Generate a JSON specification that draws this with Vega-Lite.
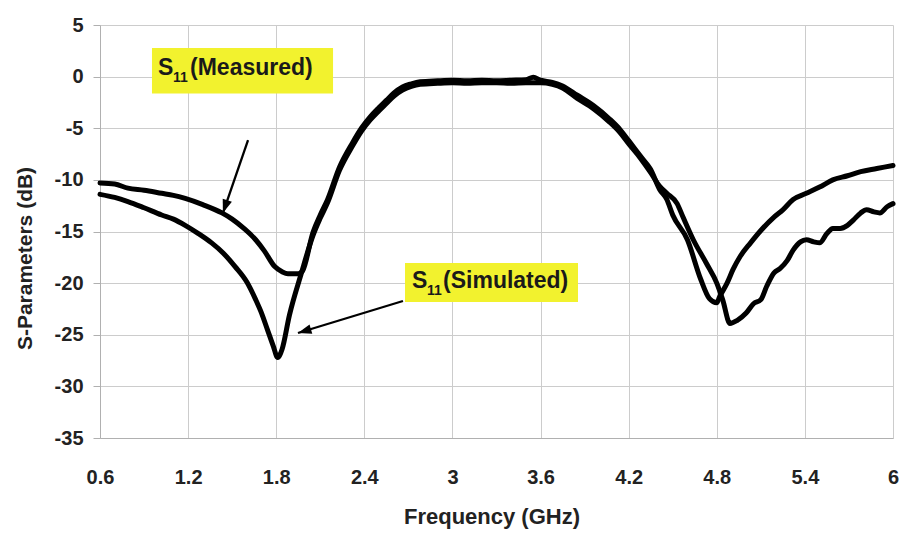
{
  "$schema": "https://vega.github.io/schema/vega-lite/v6.json",
  "width": 793,
  "height": 413,
  "autosize": {"type": "none"},
  "padding": {"left": 100, "top": 25, "right": 10, "bottom": 99},
  "background": "white",
  "config": {"view": {"stroke": null}, "font": "Liberation Sans"},
  "datasets": {
    "curves": [
      {"series": "Measured", "freq": 0.6, "db": -10.3},
      {"series": "Measured", "freq": 0.7, "db": -10.4},
      {"series": "Measured", "freq": 0.79, "db": -10.8},
      {"series": "Measured", "freq": 0.9, "db": -11.0},
      {"series": "Measured", "freq": 1.02, "db": -11.3},
      {"series": "Measured", "freq": 1.1, "db": -11.5},
      {"series": "Measured", "freq": 1.18, "db": -11.8},
      {"series": "Measured", "freq": 1.3, "db": -12.4},
      {"series": "Measured", "freq": 1.43, "db": -13.2},
      {"series": "Measured", "freq": 1.5, "db": -13.8},
      {"series": "Measured", "freq": 1.58, "db": -14.7},
      {"series": "Measured", "freq": 1.66, "db": -15.8},
      {"series": "Measured", "freq": 1.72, "db": -16.9},
      {"series": "Measured", "freq": 1.79, "db": -18.4},
      {"series": "Measured", "freq": 1.84, "db": -18.9},
      {"series": "Measured", "freq": 1.88, "db": -19.1},
      {"series": "Measured", "freq": 1.95, "db": -19.1},
      {"series": "Measured", "freq": 1.98, "db": -18.8},
      {"series": "Measured", "freq": 2.05, "db": -15.1},
      {"series": "Measured", "freq": 2.1, "db": -13.4},
      {"series": "Measured", "freq": 2.15, "db": -11.9},
      {"series": "Measured", "freq": 2.23, "db": -8.8},
      {"series": "Measured", "freq": 2.32, "db": -6.4},
      {"series": "Measured", "freq": 2.38, "db": -5.0},
      {"series": "Measured", "freq": 2.44, "db": -3.9},
      {"series": "Measured", "freq": 2.5, "db": -3.0},
      {"series": "Measured", "freq": 2.55, "db": -2.3},
      {"series": "Measured", "freq": 2.6, "db": -1.6},
      {"series": "Measured", "freq": 2.66, "db": -1.0},
      {"series": "Measured", "freq": 2.72, "db": -0.7},
      {"series": "Measured", "freq": 2.78, "db": -0.5},
      {"series": "Measured", "freq": 2.9, "db": -0.4},
      {"series": "Measured", "freq": 3.0, "db": -0.35},
      {"series": "Measured", "freq": 3.1, "db": -0.4},
      {"series": "Measured", "freq": 3.2, "db": -0.35},
      {"series": "Measured", "freq": 3.3, "db": -0.4},
      {"series": "Measured", "freq": 3.4, "db": -0.35},
      {"series": "Measured", "freq": 3.5, "db": -0.3},
      {"series": "Measured", "freq": 3.55, "db": -0.05},
      {"series": "Measured", "freq": 3.6, "db": -0.35},
      {"series": "Measured", "freq": 3.68, "db": -0.55},
      {"series": "Measured", "freq": 3.75, "db": -0.9},
      {"series": "Measured", "freq": 3.85, "db": -1.8},
      {"series": "Measured", "freq": 3.96, "db": -2.8},
      {"series": "Measured", "freq": 4.07, "db": -4.1},
      {"series": "Measured", "freq": 4.14, "db": -5.1},
      {"series": "Measured", "freq": 4.2, "db": -6.2},
      {"series": "Measured", "freq": 4.28, "db": -7.7},
      {"series": "Measured", "freq": 4.35, "db": -9.0},
      {"series": "Measured", "freq": 4.41, "db": -10.9},
      {"series": "Measured", "freq": 4.46, "db": -11.9},
      {"series": "Measured", "freq": 4.5, "db": -13.4},
      {"series": "Measured", "freq": 4.6, "db": -15.8},
      {"series": "Measured", "freq": 4.69, "db": -19.6},
      {"series": "Measured", "freq": 4.75, "db": -21.5},
      {"series": "Measured", "freq": 4.8, "db": -21.9},
      {"series": "Measured", "freq": 4.82, "db": -21.3},
      {"series": "Measured", "freq": 4.87, "db": -20.0},
      {"series": "Measured", "freq": 4.91, "db": -18.7},
      {"series": "Measured", "freq": 4.96, "db": -17.4},
      {"series": "Measured", "freq": 5.03, "db": -16.1},
      {"series": "Measured", "freq": 5.1, "db": -14.9},
      {"series": "Measured", "freq": 5.19, "db": -13.6},
      {"series": "Measured", "freq": 5.25, "db": -12.9},
      {"series": "Measured", "freq": 5.32, "db": -11.9},
      {"series": "Measured", "freq": 5.41, "db": -11.3},
      {"series": "Measured", "freq": 5.5, "db": -10.7},
      {"series": "Measured", "freq": 5.59, "db": -10.0},
      {"series": "Measured", "freq": 5.69, "db": -9.6},
      {"series": "Measured", "freq": 5.78, "db": -9.2},
      {"series": "Measured", "freq": 5.89, "db": -8.9},
      {"series": "Measured", "freq": 6.0, "db": -8.6},
      {"series": "Simulated", "freq": 0.6, "db": -11.4},
      {"series": "Simulated", "freq": 0.7, "db": -11.7},
      {"series": "Simulated", "freq": 0.79, "db": -12.1},
      {"series": "Simulated", "freq": 0.9, "db": -12.7},
      {"series": "Simulated", "freq": 1.02, "db": -13.4},
      {"series": "Simulated", "freq": 1.1, "db": -13.8},
      {"series": "Simulated", "freq": 1.18, "db": -14.4},
      {"series": "Simulated", "freq": 1.27, "db": -15.2},
      {"series": "Simulated", "freq": 1.36, "db": -16.1},
      {"series": "Simulated", "freq": 1.44, "db": -17.1},
      {"series": "Simulated", "freq": 1.52, "db": -18.4},
      {"series": "Simulated", "freq": 1.6, "db": -19.9},
      {"series": "Simulated", "freq": 1.66, "db": -21.6},
      {"series": "Simulated", "freq": 1.7, "db": -22.9},
      {"series": "Simulated", "freq": 1.74, "db": -24.5},
      {"series": "Simulated", "freq": 1.78, "db": -26.1},
      {"series": "Simulated", "freq": 1.81, "db": -27.2},
      {"series": "Simulated", "freq": 1.84, "db": -26.4},
      {"series": "Simulated", "freq": 1.89, "db": -23.1},
      {"series": "Simulated", "freq": 1.97, "db": -19.1},
      {"series": "Simulated", "freq": 2.05, "db": -15.4},
      {"series": "Simulated", "freq": 2.1, "db": -13.7},
      {"series": "Simulated", "freq": 2.15, "db": -12.2},
      {"series": "Simulated", "freq": 2.23, "db": -9.1},
      {"series": "Simulated", "freq": 2.32, "db": -6.7},
      {"series": "Simulated", "freq": 2.38, "db": -5.3},
      {"series": "Simulated", "freq": 2.44, "db": -4.2},
      {"series": "Simulated", "freq": 2.5, "db": -3.3},
      {"series": "Simulated", "freq": 2.55, "db": -2.6},
      {"series": "Simulated", "freq": 2.6, "db": -1.9},
      {"series": "Simulated", "freq": 2.66, "db": -1.3},
      {"series": "Simulated", "freq": 2.72, "db": -0.95},
      {"series": "Simulated", "freq": 2.78, "db": -0.75},
      {"series": "Simulated", "freq": 2.9, "db": -0.65},
      {"series": "Simulated", "freq": 3.0, "db": -0.6},
      {"series": "Simulated", "freq": 3.1, "db": -0.65},
      {"series": "Simulated", "freq": 3.2, "db": -0.6},
      {"series": "Simulated", "freq": 3.3, "db": -0.6},
      {"series": "Simulated", "freq": 3.4, "db": -0.65},
      {"series": "Simulated", "freq": 3.5, "db": -0.6},
      {"series": "Simulated", "freq": 3.6, "db": -0.6},
      {"series": "Simulated", "freq": 3.68, "db": -0.75},
      {"series": "Simulated", "freq": 3.75, "db": -1.1},
      {"series": "Simulated", "freq": 3.85, "db": -2.1},
      {"series": "Simulated", "freq": 3.96, "db": -3.1},
      {"series": "Simulated", "freq": 4.07, "db": -4.4},
      {"series": "Simulated", "freq": 4.14, "db": -5.4},
      {"series": "Simulated", "freq": 4.2, "db": -6.5},
      {"series": "Simulated", "freq": 4.28, "db": -7.9},
      {"series": "Simulated", "freq": 4.35, "db": -9.3},
      {"series": "Simulated", "freq": 4.41, "db": -10.6},
      {"series": "Simulated", "freq": 4.46, "db": -11.3},
      {"series": "Simulated", "freq": 4.53, "db": -12.3},
      {"series": "Simulated", "freq": 4.57, "db": -13.6},
      {"series": "Simulated", "freq": 4.64, "db": -15.8},
      {"series": "Simulated", "freq": 4.73, "db": -18.1},
      {"series": "Simulated", "freq": 4.8, "db": -20.0},
      {"series": "Simulated", "freq": 4.84, "db": -21.6},
      {"series": "Simulated", "freq": 4.89, "db": -23.9},
      {"series": "Simulated", "freq": 4.94, "db": -23.6},
      {"series": "Simulated", "freq": 5.0, "db": -22.9},
      {"series": "Simulated", "freq": 5.05, "db": -22.0},
      {"series": "Simulated", "freq": 5.1, "db": -21.6},
      {"series": "Simulated", "freq": 5.14, "db": -20.3},
      {"series": "Simulated", "freq": 5.19, "db": -19.0},
      {"series": "Simulated", "freq": 5.23, "db": -18.6},
      {"series": "Simulated", "freq": 5.28, "db": -17.8},
      {"series": "Simulated", "freq": 5.32, "db": -16.8},
      {"series": "Simulated", "freq": 5.37, "db": -16.0},
      {"series": "Simulated", "freq": 5.41, "db": -15.8},
      {"series": "Simulated", "freq": 5.46, "db": -16.0},
      {"series": "Simulated", "freq": 5.5, "db": -16.1},
      {"series": "Simulated", "freq": 5.55, "db": -15.2},
      {"series": "Simulated", "freq": 5.59, "db": -14.7},
      {"series": "Simulated", "freq": 5.64, "db": -14.7},
      {"series": "Simulated", "freq": 5.69, "db": -14.4},
      {"series": "Simulated", "freq": 5.73, "db": -13.9},
      {"series": "Simulated", "freq": 5.78, "db": -13.2},
      {"series": "Simulated", "freq": 5.82, "db": -12.9},
      {"series": "Simulated", "freq": 5.87, "db": -13.1},
      {"series": "Simulated", "freq": 5.91, "db": -13.2},
      {"series": "Simulated", "freq": 5.96, "db": -12.6},
      {"series": "Simulated", "freq": 6.0, "db": -12.3}
    ],
    "boxes": [
      {"label": "Measured", "freq": 0.954, "freq2": 2.187, "db": 2.77, "db2": -1.63},
      {"label": "Simulated", "freq": 2.677, "freq2": 3.855, "db": -18.05, "db2": -21.83}
    ],
    "arrows": [
      {"arrow": "Measured", "freq": 1.608, "db": -6.14},
      {"arrow": "Measured", "freq": 1.437, "db": -13.21},
      {"arrow": "Simulated", "freq": 2.663, "db": -21.73},
      {"arrow": "Simulated", "freq": 1.948, "db": -24.83}
    ],
    "tips": [
      {"arrow": "Measured", "freq": 1.437, "db": -13.21},
      {"arrow": "Simulated", "freq": 1.948, "db": -24.83}
    ],
    "labels": [
      {"kind": "main", "text": "S", "freq": 0.995, "db": 0.16},
      {"kind": "sub", "text": "11", "freq": 1.097, "db": -0.52},
      {"kind": "main", "text": "(Measured)", "freq": 1.213, "db": 0.16},
      {"kind": "main", "text": "S", "freq": 2.725, "db": -20.47},
      {"kind": "sub", "text": "11", "freq": 2.827, "db": -21.15},
      {"kind": "main", "text": "(Simulated)", "freq": 2.936, "db": -20.47}
    ]
  },
  "encoding": {
    "x": {
      "field": "freq",
      "type": "quantitative",
      "scale": {"domain": [0.6, 6], "nice": false, "zero": false},
      "axis": {
        "values": [0.6, 1.2, 1.8, 2.4, 3, 3.6, 4.2, 4.8, 5.4, 6],
        "labelExpr": "'' + datum.value",
        "grid": true,
        "gridColor": "#cccccc",
        "domainColor": "#b0b0b0",
        "ticks": true,
        "tickSize": 0,
        "labelPadding": 29,
        "labelFlush": false,
        "labelOverlap": false,
        "labelFont": "Liberation Sans",
        "labelFontWeight": "bold",
        "labelFontSize": 20,
        "labelColor": "#222222",
        "title": "Frequency (GHz)",
        "titleFont": "Liberation Sans",
        "titleFontWeight": "bold",
        "titleFontSize": 22,
        "titleColor": "#222222",
        "titleX": 391.5,
        "titleY": 85,
        "titleAlign": "center",
        "titleBaseline": "alphabetic"
      }
    },
    "y": {
      "field": "db",
      "type": "quantitative",
      "scale": {"domain": [-35, 5], "nice": false, "zero": false},
      "axis": {
        "values": [5, 0, -5, -10, -15, -20, -25, -30, -35],
        "labelExpr": "'' + datum.value",
        "grid": true,
        "gridColor": "#cccccc",
        "domainColor": "#b0b0b0",
        "tickColor": "#b0b0b0",
        "tickSize": 7,
        "labelPadding": 10,
        "labelFlush": false,
        "labelOverlap": false,
        "labelFont": "Liberation Sans",
        "labelFontWeight": "bold",
        "labelFontSize": 20,
        "labelColor": "#222222",
        "title": "S-Parameters (dB)",
        "titleFont": "Liberation Sans",
        "titleFontWeight": "bold",
        "titleFontSize": 21,
        "titleColor": "#222222",
        "titleAngle": -90,
        "titleX": -75,
        "titleY": 233,
        "titleAlign": "center",
        "titleBaseline": "middle"
      }
    }
  },
  "layer": [
    {
      "data": {"name": "boxes"},
      "mark": {"type": "rect", "color": "#f2f22e"},
      "encoding": {
        "x2": {"field": "freq2"},
        "y2": {"field": "db2"}
      }
    },
    {
      "data": {"name": "curves"},
      "mark": {"type": "line", "color": "#000000", "strokeWidth": 5, "strokeCap": "round", "strokeJoin": "round", "interpolate": "monotone"},
      "encoding": {
        "detail": {"field": "series", "type": "nominal"}
      }
    },
    {
      "data": {"name": "arrows"},
      "mark": {"type": "line", "color": "#000000", "strokeWidth": 2.3},
      "encoding": {
        "detail": {"field": "arrow", "type": "nominal"}
      }
    },
    {
      "data": {"name": "tips"},
      "transform": [{"filter": "datum.arrow === 'Measured'"}],
      "mark": {"type": "point", "shape": "M0,0L-0.36,1L0.36,1Z", "filled": true, "color": "#000000", "opacity": 1, "size": 729, "angle": 199},
      "encoding": {}
    },
    {
      "data": {"name": "tips"},
      "transform": [{"filter": "datum.arrow === 'Simulated'"}],
      "mark": {"type": "point", "shape": "M0,0L-0.36,1L0.36,1Z", "filled": true, "color": "#000000", "opacity": 1, "size": 729, "angle": 253.6},
      "encoding": {}
    },
    {
      "data": {"name": "labels"},
      "transform": [{"filter": "datum.kind === 'main'"}],
      "mark": {"type": "text", "align": "left", "baseline": "alphabetic", "font": "Liberation Sans", "fontWeight": "bold", "fontSize": 23, "color": "#1a1a1a"},
      "encoding": {"text": {"field": "text"}}
    },
    {
      "data": {"name": "labels"},
      "transform": [{"filter": "datum.kind === 'sub'"}],
      "mark": {"type": "text", "align": "left", "baseline": "alphabetic", "font": "Liberation Sans", "fontWeight": "bold", "fontSize": 14, "color": "#1a1a1a"},
      "encoding": {"text": {"field": "text"}}
    }
  ]
}
